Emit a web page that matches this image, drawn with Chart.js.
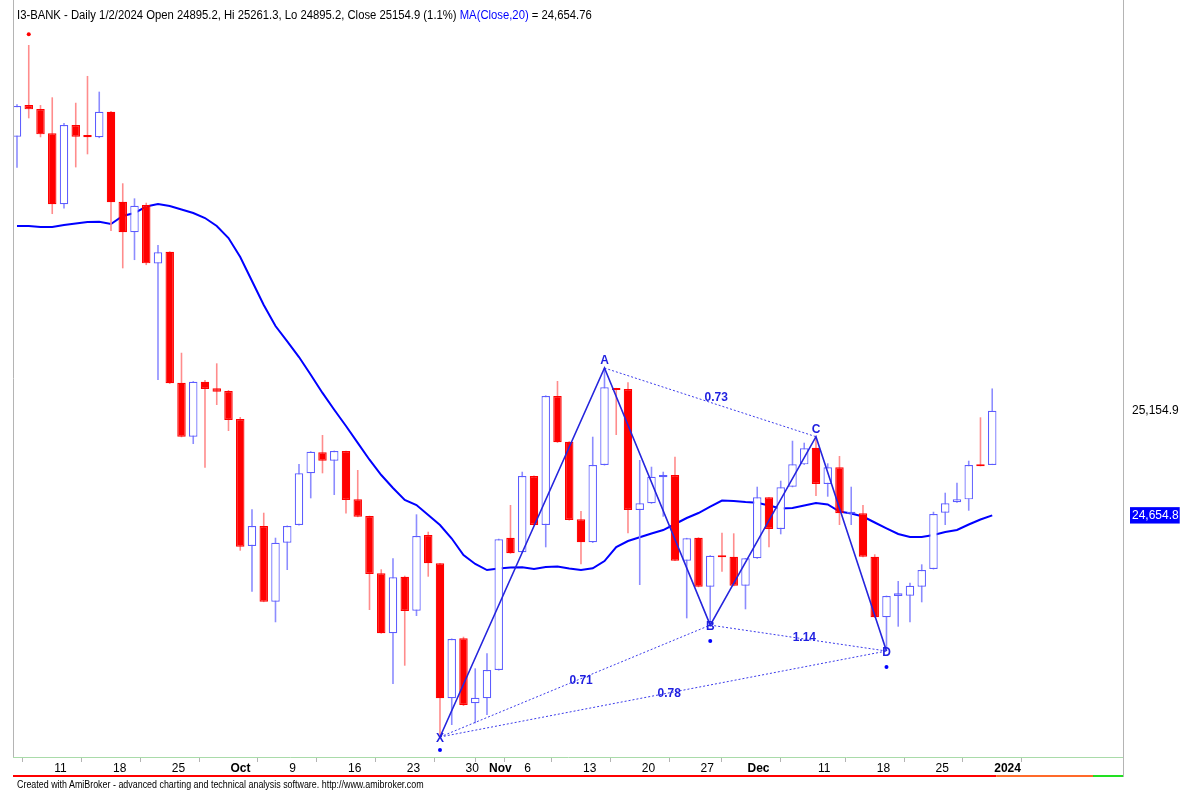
<!DOCTYPE html>
<html lang="en">
<head>
<meta charset="UTF-8">
<title>I3-BANK - Daily</title>
<script src="https://cdn.jsdelivr.net/npm/chart.js"></script>
<style>
    html, body {
        margin: 0;
        padding: 0;
        background: #fff;
    }
    #wrap {
        position: relative;
        width: 1201px;
        height: 792px;
    }
    #header {
        position: absolute;
        left: 17px;
        top: 8px;
        font: 12px "Liberation Sans", Arial, sans-serif;
        color: #000;
        white-space: nowrap;
        transform: scaleX(0.94);
        transform-origin: 0 0;
    }
    #header .ma { color: #0000ff; }
    #footer {
        position: absolute;
        left: 17px;
        top: 779px;
        font: 10px "Liberation Sans", Arial, sans-serif;
        color: #000;
        white-space: nowrap;
        transform: scaleX(0.89);
        transform-origin: 0 0;
    }
</style>
</head>
<body>
<div id="wrap">
    <canvas id="chart" width="1201" height="792"></canvas>
    <div id="header">I3-BANK - Daily 1/2/2024 Open 24895.2, Hi 25261.3, Lo 24895.2, Close 25154.9 (1.1%) <span class="ma">MA(Close,20)</span> = 24,654.76</div>
    <div id="footer">Created with AmiBroker - advanced charting and technical analysis software. http://www.amibroker.com</div>
</div>

<script>
// trading days shown on the chart
const dates = [
    '2023-09-06','2023-09-07','2023-09-08','2023-09-11','2023-09-12','2023-09-13','2023-09-14','2023-09-15',
    '2023-09-18','2023-09-19','2023-09-20','2023-09-21','2023-09-22','2023-09-25','2023-09-26','2023-09-27',
    '2023-09-28','2023-09-29','2023-10-02','2023-10-03','2023-10-04','2023-10-05','2023-10-06','2023-10-09',
    '2023-10-10','2023-10-11','2023-10-12','2023-10-13','2023-10-16','2023-10-17','2023-10-18','2023-10-19',
    '2023-10-20','2023-10-23','2023-10-24','2023-10-25','2023-10-26','2023-10-27','2023-10-30','2023-10-31',
    '2023-11-01','2023-11-02','2023-11-03','2023-11-06','2023-11-07','2023-11-08','2023-11-09','2023-11-10',
    '2023-11-13','2023-11-14','2023-11-15','2023-11-16','2023-11-17','2023-11-20','2023-11-21','2023-11-22',
    '2023-11-23','2023-11-24','2023-11-27','2023-11-28','2023-11-29','2023-11-30','2023-12-01','2023-12-04',
    '2023-12-05','2023-12-06','2023-12-07','2023-12-08','2023-12-11','2023-12-12','2023-12-13','2023-12-14',
    '2023-12-15','2023-12-18','2023-12-19','2023-12-20','2023-12-21','2023-12-22','2023-12-25','2023-12-26',
    '2023-12-27','2023-12-28','2023-12-29','2024-01-02'
];

const opens = [
    26465, 26616, 26597, 26481, 26141.5, 26520.5, 26473, 26462, 26584, 26154, 26007.6, 26138, 25859, 25915,
    25288.7, 25030.6, 25293.5, 25261.9, 25249, 25115.2, 24508.1, 24603.7, 24242, 24524, 24608.5, 24855.6,
    24956, 24915.9, 24962.2, 24731.3, 24651.5, 24377.7, 24090.9, 24361.5, 24198.9, 24560.7, 24425.5, 23780.3,
    24066.9, 23756.2, 23780.3, 23915.4, 24547.8, 24478, 24842.7, 24608.5, 25225.1, 25006.7, 24635.7, 24525.8,
    24895.3, 25261.9, 25258.6, 24680.2, 24712.2, 24836.5, 24847.5, 24437.9, 24547.8, 24313.6, 24461.8, 24457,
    24318.4, 24449.3, 24740.9, 24589.4, 24791.6, 24898.6, 24978, 24804.5, 24884.3, 24662, 24664.4, 24457,
    24167.4, 24269.1, 24270.6, 24313.6, 24398.2, 24667.3, 24717, 24731.3, 24895.3, 24895.2
];
const highs = [
    26620, 26903, 26616, 26653, 26530, 26627, 26755, 26680, 26588, 26242, 26170, 26149, 25947, 25917,
    25432, 25296, 25301.6, 25381.4, 25253.8, 25124.7, 24683.5, 24667.3, 24547.8, 24606, 24900, 24961,
    25038.7, 24964, 24964, 24871.4, 24653, 24396.8, 24449.4, 24366.2, 24659.6, 24576.5, 24427, 24066,
    24074.6, 23923.5, 23995.2, 24543, 24704.1, 24863.3, 24845, 25228, 25296.8, 25009, 24675.4, 25030.6,
    25358.9, 25264, 25290.6, 24919.2, 24887.2, 24863.3, 24935, 24547, 24550, 24464, 24571.7, 24568.8,
    24451, 24791.6, 24743, 24820.3, 25011.4, 25001.9, 25030.6, 24903.4, 24938.3, 24791.6, 24704.1, 24468.5,
    24271, 24340.8, 24332.7, 24420.6, 24672, 24762.9, 24810.8, 24915.9, 25123.3, 25261.3
];
const lows = [
    26316, 26552.5, 26462, 26095, 26122, 26318, 26380.5, 26458, 26014, 25835.5, 25875, 25851, 25301.6, 25283,
    25028, 24995.7, 24882.4, 25182.1, 25057.8, 24485.7, 24289.7, 24240, 24143.6, 24393.4, 24606, 24736,
    24855.6, 24752, 24664, 24646, 24202.2, 24089, 23848.5, 23936, 24173.5, 24361.4, 23595.3, 23652.5,
    23743.3, 23660.6, 23700.3, 23913, 24471, 24476, 24606, 24501.9, 25001, 24630, 24420.6, 24523,
    24893, 25038.7, 24569, 24321.7, 24710, 24648.2, 24436, 24162.5, 24311, 24130, 24385.3, 24316,
    24205.6, 24447, 24501.9, 24564, 24789, 24896, 24747.1, 24743.9, 24608.5, 24608.5, 24455, 24165,
    24006.2, 24122.5, 24143.6, 24239, 24396, 24608.5, 24715, 24676.9, 24889, 24895.2
];
const closes = [
    26611, 26595.5, 26476, 26141.5, 26520.5, 26464.6, 26462, 26584, 26151, 26007.6, 26134.8, 25859.4, 25912, 25285.8,
    25030.6, 25293.5, 25258.6, 25245.7, 25110.4, 24504.9, 24603.7, 24242, 24524, 24603.7, 24855.6, 24958.9,
    24915.9, 24962.2, 24728, 24648.2, 24374.3, 24090.9, 24358.6, 24197.4, 24556, 24425.5, 23780.3, 24063.6,
    23748.1, 23783, 23915.4, 24540.1, 24473.2, 24842.7, 24608.5, 25225.1, 25003.8, 24632.4, 24525.8, 24895.3,
    25266.7, 25253.8, 24680.2, 24712.2, 24839.4, 24847.5, 24437.9, 24545, 24313.6, 24461.8, 24454.1, 24318.4,
    24449.3, 24740.9, 24589.4, 24788.7, 24898.6, 24975.1, 24804.5, 24884.3, 24664.4, 24672, 24457, 24167.4,
    24269.1, 24282, 24318.4, 24393.4, 24661, 24712.2, 24731.3, 24895.3, 24889.2, 25154.9
];
// MA(Close,20)
const ma20 = [
    26037.7, 26037.7, 26033, 26033, 26042.5, 26049.7, 26056.8, 26058.3, 26047.3, 26085.5, 26099.9, 26130.9,
    26142.9, 26133.3, 26116.6, 26099.9, 26075.9, 26037.7, 25980.4, 25889.5, 25774.8, 25660.1, 25559.7, 25486.6,
    25411.5, 25326.5, 25239.9, 25159.6, 25081.7, 25001.4, 24920.6, 24847.5, 24785.4, 24728, 24704.1, 24656.3,
    24608.5, 24544, 24465.1, 24422.1, 24393.4, 24400.6, 24405.4, 24406.3, 24398.2, 24407.7, 24410.1, 24400.6,
    24393.4, 24401.5, 24436.4, 24503.3, 24532, 24549.7, 24567.9, 24584.6, 24613.3, 24642, 24665.9, 24696,
    24725.6, 24723.2, 24718.4, 24715.1, 24701.7, 24687.4, 24689.8, 24701.7, 24713.7, 24706.5, 24673.1, 24663.5,
    24649.2, 24620.6, 24592.9, 24565.5, 24551.1, 24551.1, 24560.7, 24575, 24584.6, 24610.9, 24634.8, 24654.76
];

// harmonic pattern X A B C D
const patNames = ['X', 'A', 'B', 'C', 'D'];
const patDates = ['2023-10-26', '2023-11-15', '2023-11-28', '2023-12-11', '2023-12-19'];
const patPrices = [23595.3, 25358.9, 24130, 25030.6, 24006.2];
const legs = [[0, 2], [1, 3], [2, 4], [0, 4]];      // XB, AC, BD, XD
const legRatios = ['0.71', '0.73', '1.14', '0.78'];

// pivot dots
const hiDotDates = ['2023-09-07'];
const hiDotPrices = [26955];
const loDotDates = ['2023-10-26', '2023-11-28', '2023-12-19'];
const loDotPrices = [23533, 24054, 23930];

// x axis labels
const tickDates = ['2023-09-11','2023-09-18','2023-09-25','2023-10-02','2023-10-09','2023-10-16','2023-10-23',
    '2023-10-30','2023-11-01','2023-11-06','2023-11-13','2023-11-20','2023-11-27','2023-12-01','2023-12-11',
    '2023-12-18','2023-12-25','2024-01-02'];
const tickText = ['11','18','25','Oct','9','16','23','30','Nov','6','13','20','27','Dec','11','18','25','2024'];
const tickBold = [false,false,false,true,false,false,false,false,true,false,false,false,false,true,false,false,false,true];

const FONT = '"Liberation Sans", Arial, sans-serif';
const last = dates.length - 1;
const pos = d => dates.indexOf(d);
const isUp = i => closes[i] >= opens[i];

const patPts = patDates.map((d, k) => ({ x: pos(d), y: patPrices[k] }));

const legSets = legs.map(l => ({
    type: 'line',
    data: [patPts[l[0]], patPts[l[1]]],
    borderColor: '#3b3bea',
    borderWidth: 1,
    borderDash: [2, 2],
    pointRadius: 0,
    order: 3
}));

// no extra margins from the tick labels, the plot runs edge to edge
const noPad = s => { s.paddingTop = 0; s.paddingBottom = 0; s.paddingLeft = 0; s.paddingRight = 0; };

const extras = {
    id: 'extras',
    afterDraw(chart) {
        const { ctx, chartArea: a, scales: { x, y } } = chart;
        ctx.save();
        ctx.strokeStyle = '#b4b4b4';
        ctx.lineWidth = 1;
        ctx.beginPath();
        ctx.moveTo(a.left + 0.5, 0);
        ctx.lineTo(a.left + 0.5, a.bottom);
        ctx.moveTo(a.right + 0.5, 0);
        ctx.lineTo(a.right + 0.5, a.bottom + 20);
        ctx.stroke();

        // strip under the date labels
        const yb = a.bottom + 19;
        const xl = x.getPixelForValue(last) + 4;
        ctx.lineWidth = 2;
        ctx.strokeStyle = '#ff0000';
        ctx.beginPath(); ctx.moveTo(a.left, yb); ctx.lineTo(xl, yb); ctx.stroke();
        ctx.strokeStyle = '#ff6a2a';
        ctx.beginPath(); ctx.moveTo(xl, yb); ctx.lineTo(a.right - 30, yb); ctx.stroke();
        ctx.strokeStyle = '#22e022';
        ctx.beginPath(); ctx.moveTo(a.right - 30, yb); ctx.lineTo(a.right, yb); ctx.stroke();

        // pattern letters
        ctx.font = 'bold 12px ' + FONT;
        ctx.fillStyle = '#1f1fe0';
        ctx.textAlign = 'center';
        ctx.textBaseline = 'middle';
        patPts.forEach((p, k) => {
            const off = k % 2 === 1 ? -7 : 2;
            ctx.fillText(patNames[k], x.getPixelForValue(p.x), y.getPixelForValue(p.y) + off);
        });
        // leg ratios
        legs.forEach((l, k) => {
            const p = patPts[l[0]], q = patPts[l[1]];
            const mx = (x.getPixelForValue(p.x) + x.getPixelForValue(q.x)) / 2;
            const my = (y.getPixelForValue(p.y) + y.getPixelForValue(q.y)) / 2;
            ctx.fillText(legRatios[k], mx + 6, my + (k === 1 ? -5 : 0));
        });
        ctx.restore();
    }
};

new Chart(document.getElementById('chart').getContext('2d'), {
    type: 'bar',
    data: {
        datasets: [
            {
                label: 'MA(Close,20)',
                type: 'line',
                data: ma20.map((v, i) => ({ x: i, y: v })),
                borderColor: '#0000ff',
                borderWidth: 2,
                pointRadius: 0,
                order: 6
            },
            {
                label: 'wicks',
                data: dates.map((d, i) => ({ x: i, y: [lows[i], highs[i]] })),
                backgroundColor: c => isUp(c.dataIndex) ? '#8c8cff' : '#ff8c8c',
                grouped: false,
                maxBarThickness: 1.6,
                order: 5
            },
            {
                label: 'bodies',
                data: dates.map((d, i) => ({ x: i, y: [opens[i], closes[i]] })),
                backgroundColor: c => isUp(c.dataIndex) ? '#ffffff' : '#ff0000',
                borderColor: c => isUp(c.dataIndex) ? '#5c5cff' : '#ff0000',
                borderWidth: 1.2,
                borderSkipped: false,
                minBarLength: 2,
                grouped: false,
                barPercentage: 0.8,
                categoryPercentage: 0.9,
                order: 4
            },
            ...legSets,
            {
                label: 'pattern',
                type: 'line',
                data: patPts,
                borderColor: '#2525dd',
                borderWidth: 1.6,
                pointRadius: 0,
                order: 2
            },
            {
                type: 'line',
                data: hiDotDates.map((d, k) => ({ x: pos(d), y: hiDotPrices[k] })),
                showLine: false,
                pointRadius: 2,
                pointBackgroundColor: '#ff0000',
                pointBorderWidth: 0,
                order: 1
            },
            {
                type: 'line',
                data: loDotDates.map((d, k) => ({ x: pos(d), y: loDotPrices[k] })),
                showLine: false,
                pointRadius: 2,
                pointBackgroundColor: '#0000ff',
                pointBorderWidth: 0,
                order: 1
            }
        ]
    },
    options: {
        responsive: false,
        animation: false,
        layout: { padding: { left: 13, top: 0, right: 0, bottom: 0 } },
        plugins: {
            legend: { display: false },
            tooltip: { enabled: false }
        },
        scales: {
            x: {
                type: 'linear',
                min: -0.34,
                max: 94.13,
                offset: false,
                afterBuildTicks: s => { s.ticks = tickDates.map(d => ({ value: pos(d) })); },
                afterFit: s => { s.height = 35; noPad(s); },
                grid: { drawOnChartArea: false, drawTicks: true, tickLength: 5, color: '#b4b4b4' },
                border: { display: true, color: '#a9dba9', width: 1 },
                ticks: {
                    autoSkip: false,
                    maxRotation: 0,
                    align: 'start',
                    labelOffset: 2,
                    padding: -1,
                    color: '#000',
                    font: c => ({ family: FONT, size: 12, weight: tickBold[c.index] ? 'bold' : 'normal' }),
                    callback: (v, i) => tickText[i]
                }
            },
            y: {
                position: 'right',
                min: 23499.6,
                max: 27099,
                afterBuildTicks: s => { s.ticks = [{ value: closes[last] }, { value: ma20[last] }]; },
                afterFit: s => { s.width = 78; noPad(s); },
                grid: { display: false, drawTicks: false },
                border: { display: true, color: '#b4b4b4' },
                ticks: {
                    padding: 9,
                    color: c => c.index === 1 ? '#ffffff' : '#000000',
                    font: { family: FONT, size: 12 },
                    showLabelBackdrop: c => c.index === 1,
                    backdropColor: '#0000ff',
                    backdropPadding: { top: 1, bottom: 1, left: 2, right: 1 },
                    callback: v => v.toLocaleString('en-US', { minimumFractionDigits: 1, maximumFractionDigits: 1 })
                }
            }
        }
    },
    plugins: [extras]
});
</script>
</body>
</html>
